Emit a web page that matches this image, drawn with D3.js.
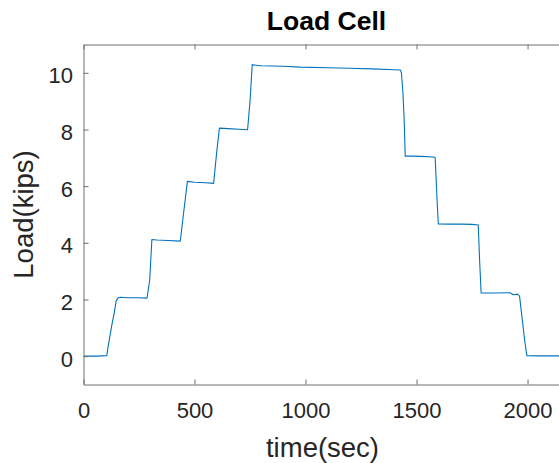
<!DOCTYPE html>
<html>
<head>
<meta charset="utf-8">
<script src="https://cdn.jsdelivr.net/npm/d3@7"></script>
<style>
  html, body { margin: 0; padding: 0; background: #fff; overflow: hidden; }
  svg { display: block; font-family: "Liberation Sans", Arial, sans-serif; }
</style>
</head>
<body>
<svg id="chart" width="559" height="463"></svg>
<script>
// ---- data ----
const timeSec = [0, 60, 105, 110, 120, 130, 138, 147, 155, 165, 200, 250, 286, 298, 308, 330, 380, 436, 450, 468, 500, 550, 586, 600, 612, 650, 700, 739, 750, 760, 765, 800, 900, 976, 1100, 1200, 1300, 1400, 1427, 1432, 1439, 1445, 1449, 1480, 1520, 1577, 1584, 1592, 1598, 1650, 1700, 1750, 1778, 1784, 1791, 1850, 1922, 1930, 1940, 1955, 1964, 1975, 1988, 1997, 2050, 2100, 2180];
const loadKips = [0, 0, 0.02, 0.3, 0.75, 1.2, 1.5, 1.95, 2.05, 2.08, 2.06, 2.06, 2.05, 2.67, 4.12, 4.1, 4.08, 4.06, 5.0, 6.17, 6.14, 6.12, 6.1, 7.2, 8.05, 8.03, 8.01, 7.99, 9.0, 10.29, 10.28, 10.25, 10.23, 10.2, 10.18, 10.16, 10.14, 10.11, 10.1, 10.0, 9.26, 8.2, 7.06, 7.06, 7.05, 7.03, 7.0, 5.6, 4.67, 4.66, 4.66, 4.65, 4.63, 3.4, 2.23, 2.23, 2.24, 2.19, 2.17, 2.19, 2.12, 1.38, 0.5, 0.02, 0.01, 0.01, 0.01];
const xTicks = [0, 500, 1000, 1500, 2000];
const yTicks = [0, 2, 4, 6, 8, 10];
const xDomain = [0, 2180];
const yDomain = [-1, 11];
const titleText = "Load Cell";
const xLabelText = "time(sec)";
const yLabelText = "Load(kips)";

// ---- layout ----
const svg = d3.select("#chart");
const mLeft = 83.5, mRight = 567.5, mTop = 44.5, mBottom = 384.5;
const axisColor = "#707070";
const textColor = "#262626";

const x = d3.scaleLinear().domain(xDomain).range([mLeft, mRight]);
const y = d3.scaleLinear().domain(yDomain).range([mBottom, mTop]);

const data = timeSec.map((t, i) => ({ t, v: loadKips[i] }));

svg.append("defs").append("clipPath").attr("id", "clip")
  .append("rect").attr("x", mLeft).attr("y", mTop).attr("width", mRight - mLeft).attr("height", mBottom - mTop);

svg.append("path")
  .datum(data)
  .attr("clip-path", "url(#clip)")
  .attr("fill", "none")
  .attr("stroke", "#0072BD")
  .attr("stroke-width", 1.1)
  .attr("stroke-linejoin", "round")
  .attr("d", d3.line().x(d => x(d.t)).y(d => y(d.v)));

const tickLen = 5;
const fontTick = 22;

const gx = svg.append("g").attr("transform", `translate(0,${mBottom})`)
  .call(d3.axisBottom(x).tickValues(xTicks).tickSizeInner(-tickLen).tickSizeOuter(0).tickFormat(d3.format("d")));
gx.select(".domain").attr("stroke", axisColor);
gx.selectAll(".tick line").attr("stroke", axisColor);
gx.selectAll(".tick text").attr("fill", textColor).attr("font-size", fontTick)
  .attr("font-family", "Liberation Sans, Arial, sans-serif").attr("dy", null).attr("y", 33.5);

const gxt = svg.append("g").attr("transform", `translate(0,${mTop})`)
  .call(d3.axisTop(x).tickValues(xTicks).tickSizeInner(-tickLen).tickSizeOuter(0).tickFormat(""));
gxt.select(".domain").attr("stroke", axisColor);
gxt.selectAll(".tick line").attr("stroke", axisColor);

const gy = svg.append("g").attr("transform", `translate(${mLeft},0)`)
  .call(d3.axisLeft(y).tickValues(yTicks).tickSizeInner(-tickLen).tickSizeOuter(0).tickFormat(d3.format("d")));
gy.select(".domain").attr("stroke", axisColor);
gy.selectAll(".tick line").attr("stroke", axisColor);
gy.selectAll(".tick text").attr("fill", textColor).attr("font-size", fontTick)
  .attr("font-family", "Liberation Sans, Arial, sans-serif").attr("dy", null).attr("y", 10).attr("x", -10.5);

const gyr = svg.append("g").attr("transform", `translate(${mRight},0)`)
  .call(d3.axisRight(y).tickValues(yTicks).tickSizeInner(-tickLen).tickSizeOuter(0).tickFormat(""));
gyr.select(".domain").attr("stroke", axisColor);
gyr.selectAll(".tick line").attr("stroke", axisColor);

const cx = (mLeft + mRight) / 2;
svg.append("text").attr("x", cx + 1).attr("y", 29.5).attr("text-anchor", "middle")
  .attr("font-size", 26.5).attr("font-weight", "bold").attr("fill", "#000").text(titleText);

svg.append("text").attr("x", cx - 3).attr("y", 457).attr("text-anchor", "middle")
  .attr("font-size", 27.5).attr("fill", textColor).text(xLabelText);

svg.append("text").attr("transform", `translate(33,${(mTop + mBottom) / 2}) rotate(-90)`)
  .attr("text-anchor", "middle").attr("font-size", 27.5).attr("fill", textColor).text(yLabelText);
</script>
</body>
</html>
